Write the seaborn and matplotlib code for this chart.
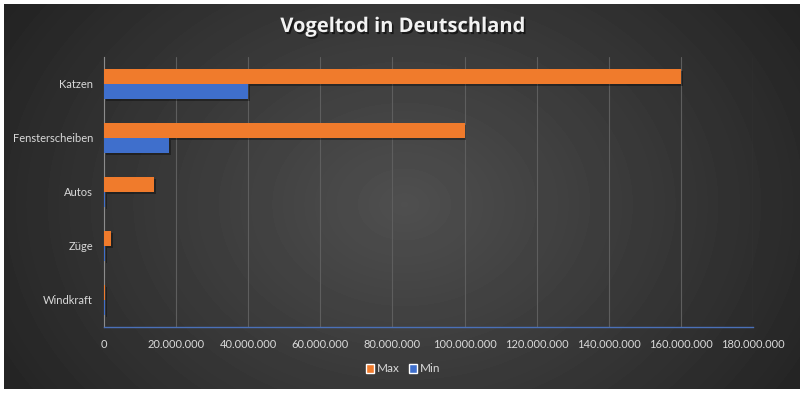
import numpy as np
import pandas as pd
import seaborn as sns
import matplotlib.pyplot as plt
import matplotlib.patheffects as pe
from matplotlib.ticker import FuncFormatter
from matplotlib.patches import Patch

# Daten
kategorien = ['Katzen', 'Fensterscheiben', 'Autos', 'Züge', 'Windkraft']
max_werte = [160000000, 100000000, 14000000, 2000000, 400000]
min_werte = [40000000, 18000000, 350000, 350000, 350000]
serien = ['Max', 'Min']
x_ticks = [0, 20000000, 40000000, 60000000, 80000000, 100000000,
           120000000, 140000000, 160000000, 180000000]

df = pd.DataFrame({
    'Ursache': kategorien * 2,
    'Wert': max_werte + min_werte,
    'Serie': ['Max'] * len(kategorien) + ['Min'] * len(kategorien),
})

farben = {'Max': '#F07B2C', 'Min': '#3F6FCC'}
text_farbe = '#D9D9D9'

sns.set_style('dark')
plt.rcParams['font.family'] = ['Lato', 'DejaVu Sans']

fig = plt.figure(figsize=(8.06, 3.95), dpi=100, facecolor='white')

# Hintergrund mit radialem Verlauf
bg = fig.add_axes([4 / 806, 6 / 395, 796 / 806, 385 / 395])
yy, xx = np.mgrid[0:385, 0:796]
r = np.sqrt(((xx - 400) / 520.0) ** 2 + ((yy - 200) / 400.0) ** 2)
grad = np.clip(0.31 - 0.19 * r, 0.13, 0.31)
bg.imshow(grad, cmap='gray', vmin=0, vmax=1, aspect='auto', interpolation='bilinear')
bg.set_axis_off()

ax = fig.add_axes([104 / 806, 1 - 327 / 395, 649 / 806, 270 / 395])
ax.set_facecolor('none')

sns.barplot(data=df, x='Wert', y='Ursache', hue='Serie', hue_order=serien,
            order=kategorien, orient='h', palette=farben, width=0.57,
            saturation=1, ax=ax, legend=False)

for bar in ax.patches:
    bar.set_path_effects([pe.SimplePatchShadow(offset=(1.2, -1.5), shadow_rgbFace='black', alpha=0.35),
                          pe.Normal()])
    bar.set_edgecolor('none')
    bar.set_zorder(3)

ax.set_xlim(0, 180000000)
ax.set_xticks(x_ticks)
ax.xaxis.set_major_formatter(FuncFormatter(lambda v, p: f'{int(v):,}'.replace(',', '.')))
ax.grid(axis='x', color='#5E5E5E', linewidth=0.8)
ax.grid(axis='y', visible=False)
ax.set_axisbelow(True)
ax.set_xlabel('')
ax.set_ylabel('')
ax.tick_params(axis='both', length=0, colors=text_farbe, labelsize=8)
ax.tick_params(axis='x', pad=9)
ax.tick_params(axis='y', pad=8)
for s in ['top', 'right']:
    ax.spines[s].set_visible(False)
ax.spines['left'].set_color('#8C8C8C')
ax.spines['left'].set_linewidth(0.8)
ax.spines['bottom'].set_color('#4A70B8')
ax.spines['bottom'].set_linewidth(1.0)

fig.text(0.5, 1 - 27 / 395, 'Vogeltod in Deutschland', ha='center', va='center',
         fontsize=14.5, fontweight='bold', color='#F2F2F2', family=['Open Sans', 'DejaVu Sans'],
         path_effects=[pe.withSimplePatchShadow(offset=(1.2, -1.5), shadow_rgbFace='black', alpha=0.55)])

handles = [Patch(facecolor=farben[s], label=s) for s in serien]
fig.legend(handles=handles, loc='center', bbox_to_anchor=(403 / 806, 1 - 369 / 395),
           ncol=2, frameon=False, fontsize=8.5, handlelength=0.7, handleheight=0.7,
           handletextpad=0.2, columnspacing=0.8, labelcolor=text_farbe)

fig.savefig('out.png', dpi=100, facecolor='white')
